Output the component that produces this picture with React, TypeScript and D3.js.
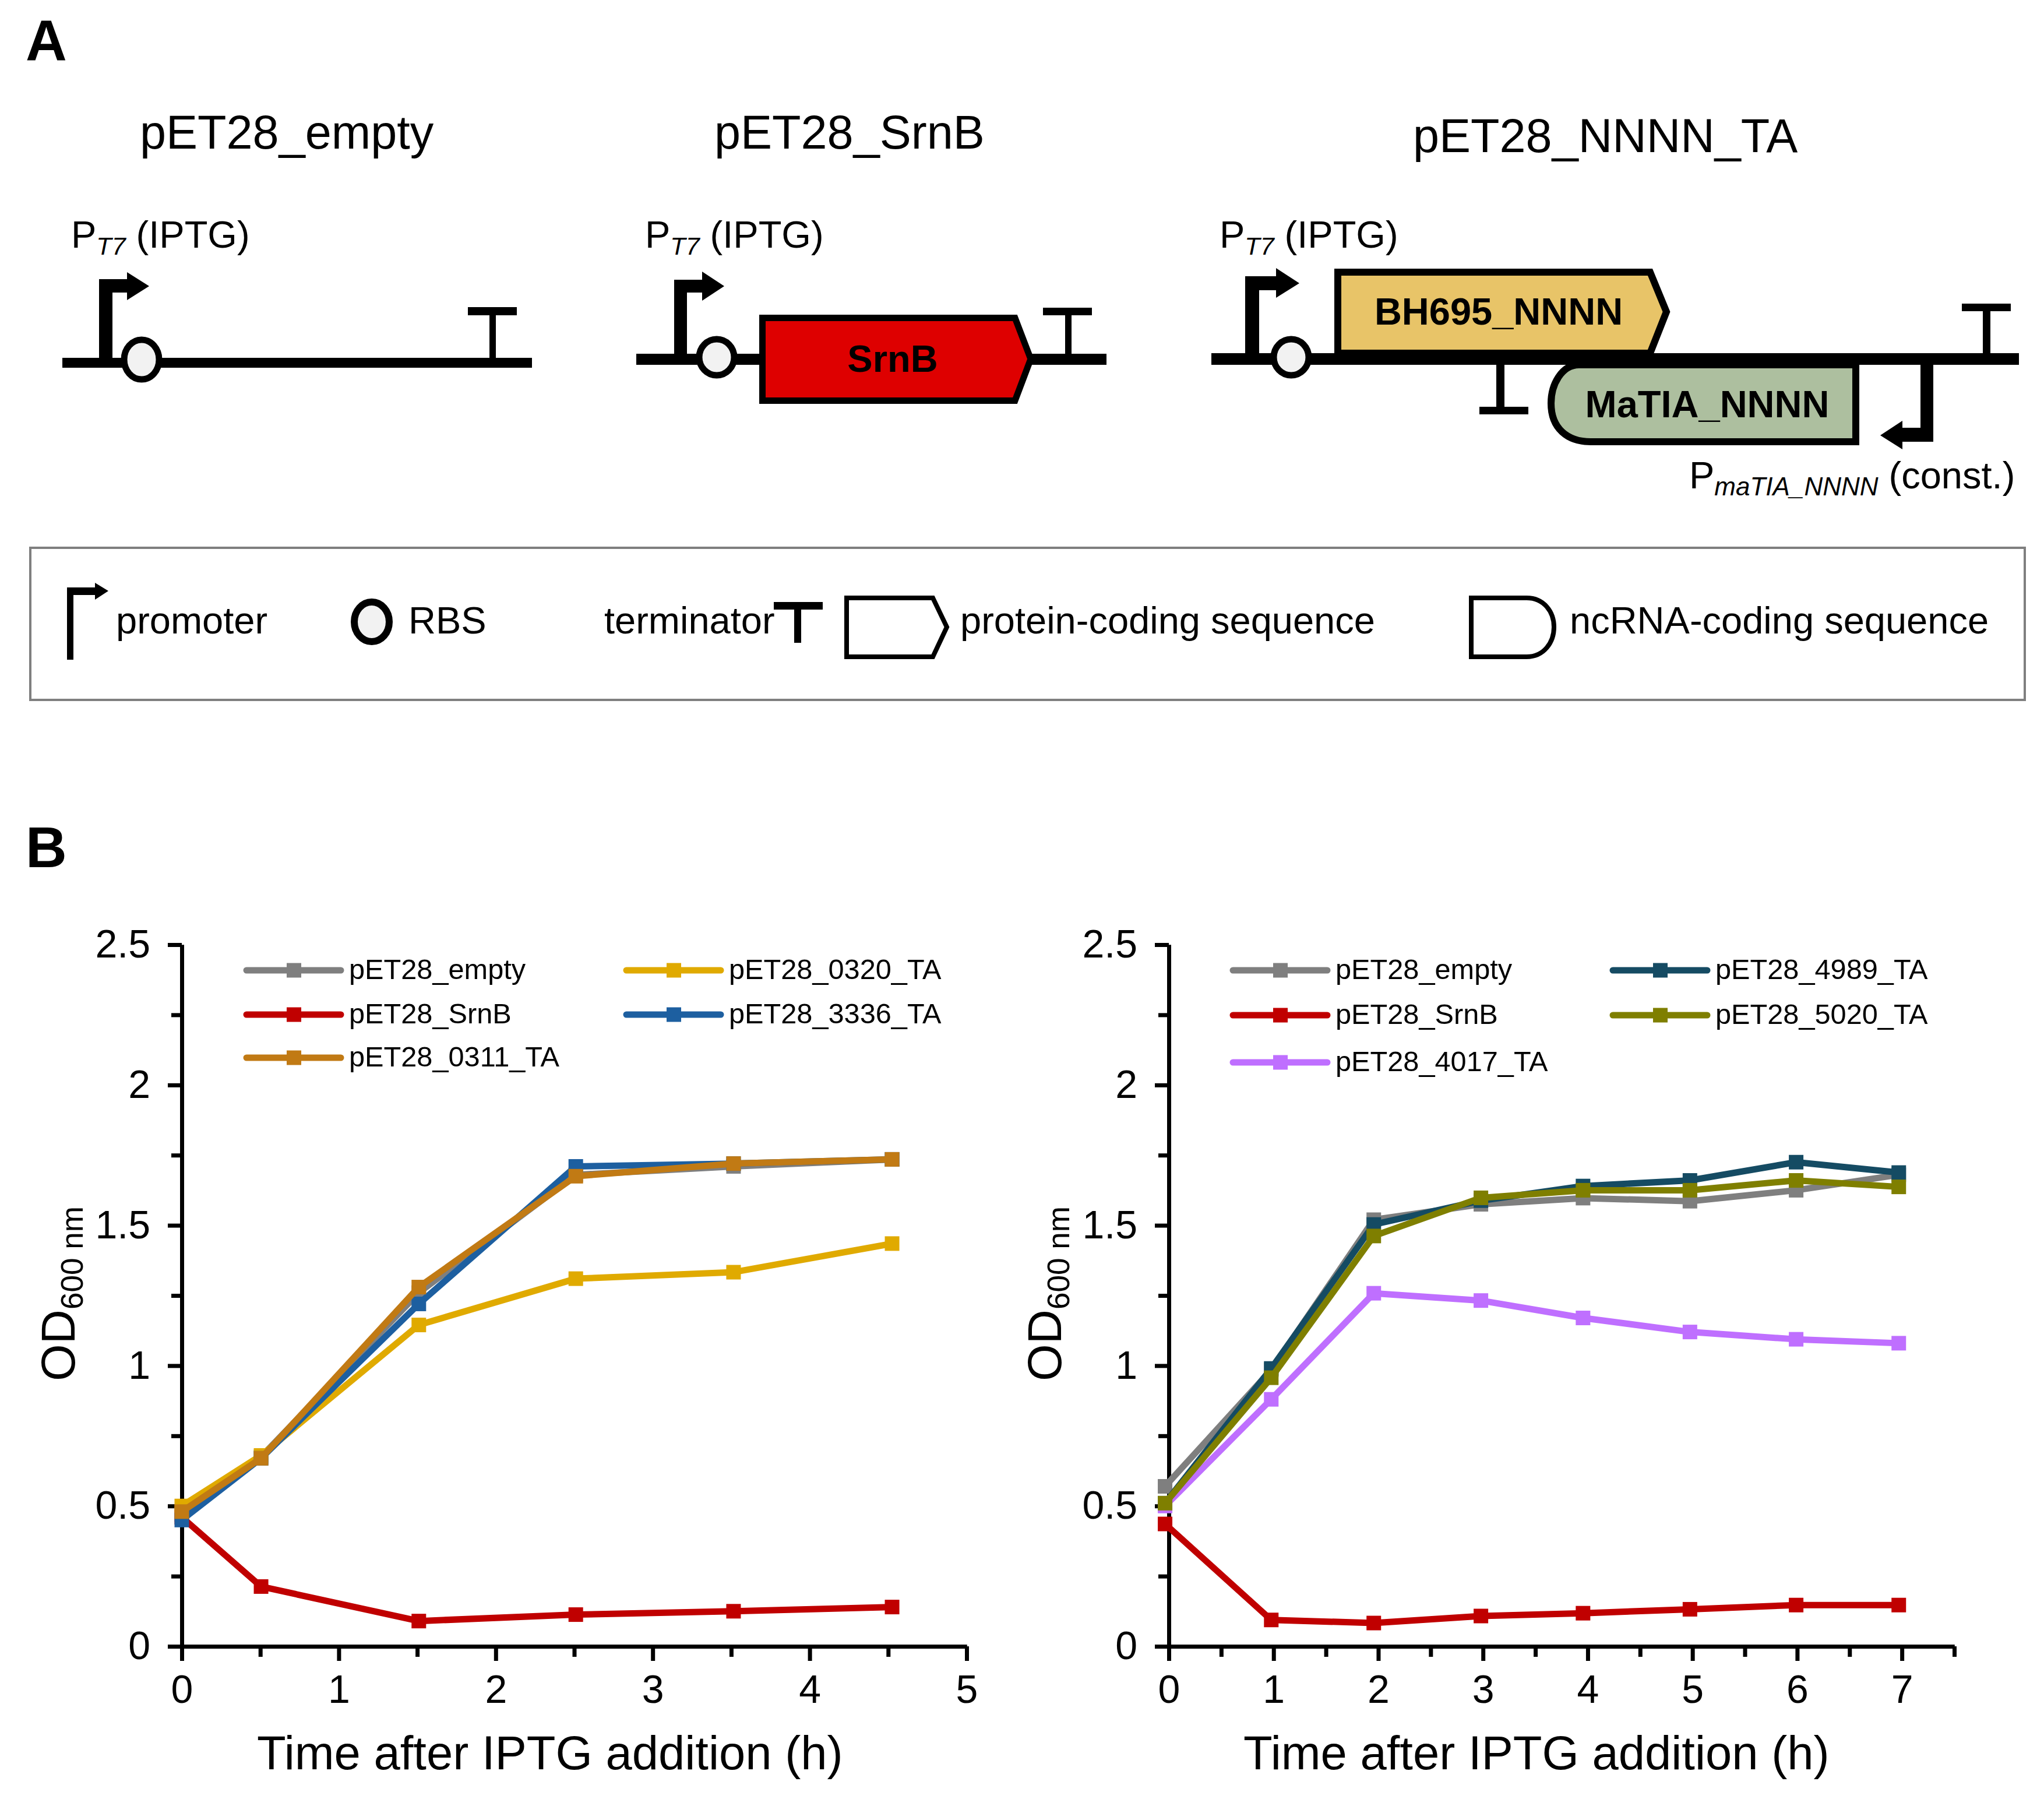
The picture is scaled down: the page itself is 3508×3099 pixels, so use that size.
import { useEffect, useRef } from 'react';
import * as d3 from 'd3';

const FONT = '"Liberation Sans", Arial, sans-serif';

// panel B, left chart
const timesLeft = [0, 0.505, 1.51, 2.51, 3.515, 4.525];
const leftEmpty = [0.47, 0.675, 1.26, 1.68, 1.71, 1.735];
const leftSrnB = [0.46, 0.213, 0.09, 0.113, 0.125, 0.14];
const left0320 = [0.5, 0.68, 1.145, 1.31, 1.333, 1.435];
const left3336 = [0.45, 0.67, 1.22, 1.71, 1.72, 1.735];
const left0311 = [0.48, 0.67, 1.28, 1.675, 1.72, 1.735];

// panel B, right chart (points sit slightly off the ticks in the original)
const timesRight = [-0.036, 0.978, 1.957, 2.98, 3.955, 4.976, 5.99, 6.97];
const rightEmpty = [0.57, 0.985, 1.52, 1.575, 1.597, 1.586, 1.625, 1.68];
const rightSrnB = [0.436, 0.094, 0.083, 0.108, 0.118, 0.132, 0.147, 0.147];
const right4989 = [0.51, 0.99, 1.503, 1.588, 1.64, 1.66, 1.725, 1.688];
const right5020 = [0.51, 0.957, 1.462, 1.598, 1.625, 1.625, 1.66, 1.637];
const right4017 = [0.5, 0.88, 1.258, 1.232, 1.17, 1.12, 1.094, 1.08];

const yMajor = [0, 0.5, 1, 1.5, 2, 2.5];
const yMinor = [0.25, 0.75, 1.25, 1.75, 2.25];
const leftXMajor = [0, 1, 2, 3, 4, 5];
const leftXMinor = [0.5, 1.5, 2.5, 3.5, 4.5];
const rightXMajor = [0, 1, 2, 3, 4, 5, 6, 7];
const rightXMinor = [0.5, 1.5, 2.5, 3.5, 4.5, 5.5, 6.5, 7.5];

const GREY = '#7f7f7f';
const RED = '#c00000';

type Series = { label: string; values: number[]; stroke: string; legend: [number, number] };

const leftSeries: Series[] = [
  { label: 'pET28_empty', values: leftEmpty, stroke: GREY, legend: [0, 0] },
  { label: 'pET28_SrnB', values: leftSrnB, stroke: RED, legend: [0, 1] },
  { label: 'pET28_0320_TA', values: left0320, stroke: '#e0aa00', legend: [1, 0] },
  { label: 'pET28_3336_TA', values: left3336, stroke: '#1d5fa0', legend: [1, 1] },
  { label: 'pET28_0311_TA', values: left0311, stroke: '#c17a14', legend: [0, 2] },
];

const rightSeries: Series[] = [
  { label: 'pET28_empty', values: rightEmpty, stroke: GREY, legend: [0, 0] },
  { label: 'pET28_SrnB', values: rightSrnB, stroke: RED, legend: [0, 1] },
  { label: 'pET28_4989_TA', values: right4989, stroke: '#154b63', legend: [1, 0] },
  { label: 'pET28_4017_TA', values: right4017, stroke: '#bf6fff', legend: [0, 2] },
  { label: 'pET28_5020_TA', values: right5020, stroke: '#7f7f00', legend: [1, 1] },
];

function GrowthChart({
  series, times, xMax, xRange, xMajor, xMinor, legendX, legendRows, ylabelX, xlabelX,
}: {
  series: Series[];
  times: number[];
  xMax: number;
  xRange: [number, number];
  xMajor: number[];
  xMinor: number[];
  legendX: [number, number];
  legendRows: number[];
  ylabelX: number;
  xlabelX: number;
}) {
  const xRef = useRef<SVGGElement>(null);
  const yRef = useRef<SVGGElement>(null);

  const yBottom = 2825;
  const x = d3.scaleLinear().domain([0, xMax]).range(xRange);
  const y = d3.scaleLinear().domain([0, 2.5]).range([yBottom, 1621]);

  useEffect(() => {
    const gx = d3.select(xRef.current!);
    const gy = d3.select(yRef.current!);
    gx.selectAll('*').remove();
    gy.selectAll('*').remove();

    gx.append('g').call(d3.axisBottom(x).tickValues(xMinor).tickSize(18).tickSizeOuter(0).tickFormat(() => ''));
    gx.append('g').call(d3.axisBottom(x).tickValues(xMajor).tickSize(25).tickSizeOuter(0).tickPadding(24).tickFormat((d) => String(d)));
    gy.append('g').call(d3.axisLeft(y).tickValues(yMinor).tickSize(18).tickSizeOuter(0).tickFormat(() => ''));
    gy.append('g').call(d3.axisLeft(y).tickValues(yMajor).tickSize(24).tickSizeOuter(0).tickPadding(30).tickFormat((d) => String(d)));

    for (const g of [gx, gy]) {
      g.selectAll('path.domain').attr('stroke', '#000').attr('stroke-width', 7);
      g.selectAll('.tick line').attr('stroke', '#000').attr('stroke-width', 7);
      g.selectAll('.tick text').attr('fill', '#000').attr('font-family', FONT).attr('font-size', 68);
    }
  }, []);

  const line = d3.line<number>().x((_, i) => x(times[i])).y((d) => y(d));

  return (
    <g>
      <g ref={xRef} transform={`translate(0,${yBottom})`} />
      <g ref={yRef} transform={`translate(${xRange[0]},0)`} />
      {series.map((s) => (
        <g key={s.label}>
          <path d={line(s.values)!} fill="none" stroke={s.stroke} strokeWidth={11} strokeLinejoin="round" />
          {s.values.map((v, i) => (
            <rect key={i} x={x(times[i]) - 12.5} y={y(v) - 12.5} width={25} height={25} fill={s.stroke} />
          ))}
        </g>
      ))}

      {series.map((s) => {
        const lx = legendX[s.legend[0]];
        const ly = legendRows[s.legend[1]];
        return (
          <g key={s.label}>
            <line x1={lx} x2={lx + 162} y1={ly} y2={ly} stroke={s.stroke} strokeWidth={11} strokeLinecap="round" />
            <rect x={lx + 69} y={ly - 12.5} width={25} height={25} fill={s.stroke} />
            <text x={lx + 176} y={ly + 15} fontSize={48.7} fontFamily={FONT}>{s.label}</text>
          </g>
        );
      })}

      <text x={xlabelX} y={3036} fontSize={81.4} fontFamily={FONT}>Time after IPTG addition (h)</text>
      <text transform={`translate(${ylabelX},2370) rotate(-90)`} fontSize={82} fontFamily={FONT}>
        OD<tspan fontSize={53} dy={14}>600 nm</tspan>
      </text>
    </g>
  );
}

function Rbs({ cx, cy, ry = 31 }: { cx: number; cy: number; ry?: number }) {
  return <ellipse cx={cx} cy={cy} rx={30} ry={ry} fill="#f2f2f2" stroke="#000" strokeWidth={11} />;
}

function PT7({ x }: { x: number }) {
  return (
    <text x={x} y={425} fontSize={65} fontFamily={FONT}>
      P<tspan fontSize={43} fontStyle="italic" dy={12}>T7</tspan>
      <tspan dy={-12}> (IPTG)</tspan>
    </text>
  );
}

function Diagram() {
  return (
    <g fontFamily={FONT}>
      <text x={44} y={103} fontSize={98} fontWeight={700}>A</text>
      <text x={240} y={255} fontSize={81}>pET28_empty</text>
      <text x={1226} y={255} fontSize={81}>pET28_SrnB</text>
      <text x={2425} y={261} fontSize={81}>pET28_NNNN_TA</text>

      {/* pET28_empty */}
      <PT7 x={122} />
      <rect x={107} y={614} width={806} height={17} />
      <path d="M170,622 V479 H218 V467 L256,491 L218,515 V502 H193 V622 Z" />
      <Rbs cx={243} cy={617} ry={34} />
      <rect x={840} y={535} width={11} height={85} />
      <rect x={803} y={527} width={84} height={14} />

      {/* pET28_SrnB */}
      <PT7 x={1107} />
      <rect x={1092} y={607} width={807} height={19} />
      <path d="M1157,612 V480 H1205 V466 L1243,491 L1205,516 V502 H1179 V612 Z" />
      <Rbs cx={1230} cy={613} />
      <path d="M1308.5,545.5 H1742 L1769,616 L1742,687.5 H1308.5 Z" fill="#de0000" stroke="#000" strokeWidth={11} />
      <text x={1532} y={638} fontSize={65} fontWeight={700} textAnchor="middle">SrnB</text>
      <rect x={1828} y={535} width={11} height={78} />
      <rect x={1790} y={528} width={84} height={13} />

      {/* pET28_NNNN_TA */}
      <PT7 x={2093} />
      <rect x={2079} y={606} width={1386} height={20} />
      <path d="M2137,610 V474 H2190 V460 L2230,486 L2190,511 V498 H2161 V610 Z" />
      <Rbs cx={2216} cy={613} />
      <path d="M2296,467 H2832 L2860,535 L2832,606 H2296 Z" fill="#e8c468" stroke="#000" strokeWidth={12} />
      <text x={2572} y={557} fontSize={65} fontWeight={700} textAnchor="middle">BH695_NNNN</text>
      <rect x={2568} y={620} width={14} height={85} />
      <rect x={2539} y={698} width={84} height={13} />
      <path d="M3185,626 V758 H2730 C2690,758 2662,735 2662,692 C2662,660 2680,626 2710,626 Z" fill="#adbf9f" stroke="#000" strokeWidth={12} />
      <text x={2930} y={716} fontSize={65} fontWeight={700} textAnchor="middle">MaTIA_NNNN</text>
      <rect x={3403} y={528} width={13} height={85} />
      <rect x={3367} y={521} width={84} height={13} />
      <path d="M3296,620 V734 H3265 V722 L3227,747 L3265,771 V758 H3318 V620 Z" />
      <text x={2899} y={838} fontSize={65}>
        P<tspan fontSize={44} fontStyle="italic" dy={12}>maTIA_NNNN</tspan>
        <tspan dy={-12}> (const.)</tspan>
      </text>

      {/* key */}
      <rect x={52} y={940} width={3423} height={261} fill="none" stroke="#7f7f7f" strokeWidth={4} />
      <path d="M115,1132 V1008 H163 V1000 L186,1014 L163,1029 V1021 H126 V1132 Z" />
      <text x={199} y={1087} fontSize={65}>promoter</text>
      <ellipse cx={638} cy={1067} rx={30} ry={34} fill="#f2f2f2" stroke="#000" strokeWidth={12} />
      <text x={701} y={1087} fontSize={65}>RBS</text>
      <text x={1037} y={1087} fontSize={65}>terminator</text>
      <rect x={1328} y={1033} width={84} height={13} />
      <rect x={1363} y={1040} width={12} height={63} />
      <path d="M1453,1026 H1601 L1625,1076 L1601,1127 H1453 Z" fill="none" stroke="#000" strokeWidth={8} />
      <text x={1648} y={1087} fontSize={65}>protein-coding sequence</text>
      <path d="M2525,1026 H2620 C2650,1026 2667,1050 2667,1076 C2667,1102 2650,1127 2620,1127 H2525 Z" fill="none" stroke="#000" strokeWidth={8} />
      <text x={2694} y={1087} fontSize={65}>ncRNA-coding sequence</text>

      <text x={44} y={1488} fontSize={98} fontWeight={700}>B</text>
    </g>
  );
}

export default function App() {
  return (
    <svg width={3508} height={3099} viewBox="0 0 3508 3099" style={{ position: 'absolute', left: 0, top: 0, background: '#fff' }}>
      <Diagram />
      <GrowthChart
        series={leftSeries}
        times={timesLeft}
        xMax={5}
        xRange={[312, 1659]}
        xMajor={leftXMajor}
        xMinor={leftXMinor}
        legendX={[423, 1075]}
        legendRows={[1665, 1741, 1815]}
        ylabelX={128}
        xlabelX={441}
      />
      <GrowthChart
        series={rightSeries}
        times={timesRight}
        xMax={7.5}
        xRange={[2006, 3354]}
        xMajor={rightXMajor}
        xMinor={rightXMinor}
        legendX={[2116, 2768]}
        legendRows={[1665, 1742, 1823]}
        ylabelX={1821}
        xlabelX={2134}
      />
    </svg>
  );
}
